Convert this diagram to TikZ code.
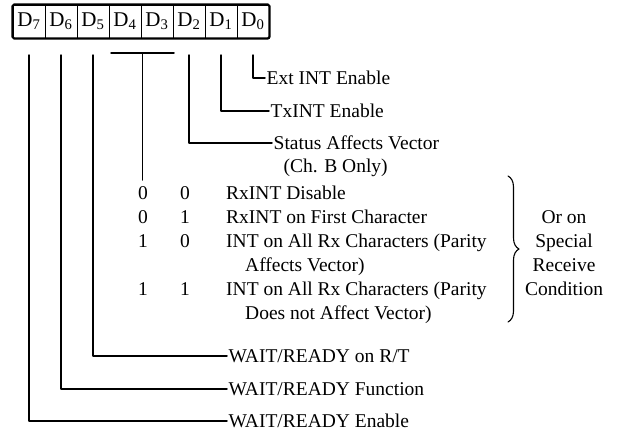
\documentclass[tikz,border=0pt]{standalone}
\usepackage{fontspec}
\setmainfont{Liberation Serif}
\usetikzlibrary{decorations.pathreplacing}

\begin{document}
\begin{tikzpicture}[x=1pt, y=-1pt, line join=round, line cap=round]
				\tikzset{cell/.style={draw, line width=0.9pt, minimum width=32pt, minimum height=33pt, inner sep=0pt, font=\fontsize{21}{21}\selectfont},
					txt/.style={inner sep=0pt, text height=13pt, text depth=0pt, font=\fontsize{19.5}{24}\selectfont},
					lbl/.style={txt, anchor=west, inner sep=1.5pt},
					wire/.style={line width=1.5pt}}
				\useasboundingbox (0,0) rectangle (637,434);
				\foreach \i in {0,...,7}
				\node[cell] (d\i) at ({29+32*(7-\i)},21.5) {D\textsubscript{\i}};
				\draw[line width=2.2pt, rounded corners=1.5pt] (d7.north west) rectangle (d0.south east);
				\coordinate (lead) at (0,55);
				\foreach \i in {7,6,5,2,1,0}
				\coordinate (t\i) at (d\i.south |- lead);
				\coordinate (barL) at (111,53);
				\coordinate (barR) at (174,53);
				\coordinate (barM) at (142.5,53);
				\coordinate (barE) at (142.5,180);
				% labels
				\node[lbl] (ext) at (265,78) {Ext INT Enable};
				\node[lbl] (tx) at (269,111) {TxINT Enable};
				\node[lbl] (sav) at (272,143) {Status Affects Vector};
				\node[lbl] (chb) at (282,166) {(Ch. B Only)};
				\node[lbl] (wrt) at (227,356) {WAIT/READY on R/T};
				\node[lbl] (wrf) at (227,389) {WAIT/READY Function};
				\node[lbl] (wre) at (227,421) {WAIT/READY Enable};
				\foreach \y/\a/\b/\t in {193/0/0/{RxINT Disable},217/0/1/{RxINT on First Character},241/1/0/{INT on All Rx Characters (Parity},289/1/1/{INT on All Rx Characters (Parity}}{
					\node[txt] (ba\y) at (143,\y) {\a};
					\node[txt] (bb\y) at (185,\y) {\b};
					\node[txt, anchor=west] (rx\y) at (226,\y) {\t};}
				\node[txt, anchor=west] (rx265) at (245,265) {Affects Vector)};
				\node[txt, anchor=west] (rx313) at (245,313) {Does not Affect Vector)};
				\foreach \y/\t in {217/Or on,241/Special,265/Receive,289/Condition}
				\node[txt] (sr\y) at (564,\y) {\t};
				\draw[line width=1.1pt, decorate, decoration={brace, amplitude=11pt}] (508,176) -- (508,322);
				% leads
				\draw[wire] (t0) |- (ext.west);
				\draw[wire] (t1) |- (tx.west);
				\draw[wire] (t2) |- (sav.west);
				\draw[wire] (barL)--(barR) (barM)--(barE);
				\draw[wire] (t5) |- (wrt.west);
				\draw[wire] (t6) |- (wrf.west);
				\draw[wire] (t7) |- (wre.west);
\end{tikzpicture}
\end{document}
